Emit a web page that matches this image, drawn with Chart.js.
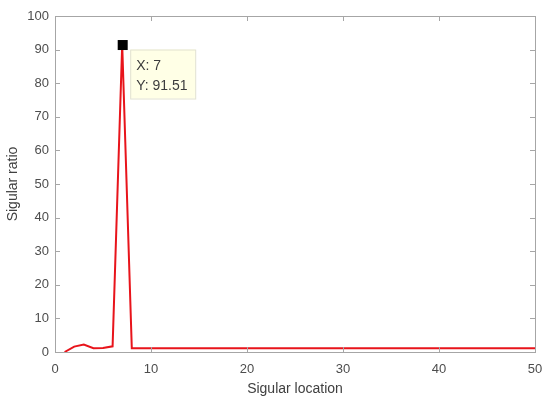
<!DOCTYPE html>
<html>
<head>
<meta charset="utf-8">
<script src="https://cdn.jsdelivr.net/npm/chart.js@4"></script>
<style>
  html, body { margin: 0; padding: 0; background: #fff; }
  #wrap { width: 550px; height: 403px; }
</style>
</head>
<body>
<div id="wrap"><canvas id="chart" width="550" height="403"></canvas></div>
<script>
// sigular location (x) and ratio (y)
const locations = [];
for (let i = 1; i <= 50; i++) locations.push(i);
const ratios = [
  0, 1.6, 2.2, 1.1, 1.2, 1.7, 91.51, 1.1, 1.1, 1.1,
  1.1, 1.1, 1.1, 1.1, 1.1, 1.1, 1.1, 1.1, 1.1, 1.1,
  1.1, 1.1, 1.1, 1.1, 1.1, 1.1, 1.1, 1.1, 1.1, 1.1,
  1.1, 1.1, 1.1, 1.1, 1.1, 1.1, 1.1, 1.1, 1.1, 1.1,
  1.1, 1.1, 1.1, 1.1, 1.1, 1.1, 1.1, 1.1, 1.1, 1.1
];
const xTicks = [0, 10, 20, 30, 40, 50];
const yTicks = [0, 10, 20, 30, 40, 50, 60, 70, 80, 90, 100];
const tipIndex = 6;

const FONT = '"Liberation Sans", Arial, sans-serif';

// matlab style box with inward ticks plus the data tip
const axesBox = {
    id: 'axesBox',
    afterDatasetsDraw(chart) {
        const { ctx, chartArea: a, scales: { x, y } } = chart;
        ctx.save();
        ctx.strokeStyle = '#a6a6a6';
        ctx.lineWidth = 1;
        ctx.strokeRect(a.left + 0.5, a.top + 0.5, a.right - a.left, a.bottom - a.top);
        ctx.beginPath();
        xTicks.forEach(v => {
            const px = Math.round(x.getPixelForValue(v)) + 0.5;
            ctx.moveTo(px, a.bottom); ctx.lineTo(px, a.bottom - 5);
            ctx.moveTo(px, a.top); ctx.lineTo(px, a.top + 5);
        });
        yTicks.forEach(v => {
            const py = Math.round(y.getPixelForValue(v)) + 0.5;
            ctx.moveTo(a.left, py); ctx.lineTo(a.left + 5, py);
            ctx.moveTo(a.right, py); ctx.lineTo(a.right - 5, py);
        });
        ctx.stroke();

        // data tip
        const px = x.getPixelForValue(locations[tipIndex]);
        const py = y.getPixelForValue(ratios[tipIndex]);
        ctx.fillStyle = '#000';
        ctx.fillRect(px - 4.5, py - 4.5, 10, 10);
        const bx = px + 8, by = py + 5, bw = 65, bh = 49;
        ctx.fillStyle = '#ffffe6';
        ctx.fillRect(bx, by, bw, bh);
        ctx.strokeStyle = '#e2e2d0';
        ctx.strokeRect(bx + 0.5, by + 0.5, bw, bh);
        ctx.fillStyle = '#3c3c3c';
        ctx.font = '14px ' + FONT;
        ctx.textBaseline = 'middle';
        ctx.fillText('X: ' + locations[tipIndex], bx + 6, by + 17);
        ctx.fillText('Y: ' + ratios[tipIndex].toFixed(2), bx + 6, by + 37);
        ctx.restore();
    }
};

const config = {
    type: 'line',
    data: {
        labels: locations,
        datasets: [{
            data: locations.map((v, i) => ({ x: v, y: ratios[i] })),
            borderColor: '#e8141b',
            borderWidth: 2,
            pointRadius: 0,
            tension: 0,
            fill: false
        }]
    },
    options: {
        responsive: false,
        animation: false,
        layout: { padding: { top: 16, right: 15, left: 0, bottom: 5 } },
        plugins: {
            legend: { display: false },
            tooltip: { enabled: false }
        },
        scales: {
            x: {
                type: 'linear',
                min: 0,
                max: 50,
                grid: { display: false },
                border: { display: false },
                afterFit: s => { s.height = 46; },
                ticks: {
                    stepSize: 10,
                    color: '#4d4d4d',
                    font: { family: FONT, size: 13 },
                    padding: 2
                },
                title: {
                    display: true,
                    text: 'Sigular location',
                    color: '#404040',
                    font: { family: FONT, size: 14 },
                    padding: { top: 0, bottom: 0 }
                }
            },
            y: {
                min: 0,
                max: 100,
                grid: { display: false },
                border: { display: false },
                afterFit: s => { s.width = 55; },
                ticks: {
                    stepSize: 10,
                    color: '#4d4d4d',
                    font: { family: FONT, size: 13 },
                    padding: -2
                },
                title: {
                    display: true,
                    text: 'Sigular ratio',
                    color: '#404040',
                    font: { family: FONT, size: 14 },
                    padding: { top: 5, bottom: 0 }
                }
            }
        }
    },
    plugins: [axesBox]
};

new Chart(document.getElementById('chart'), config);
</script>
</body>
</html>
